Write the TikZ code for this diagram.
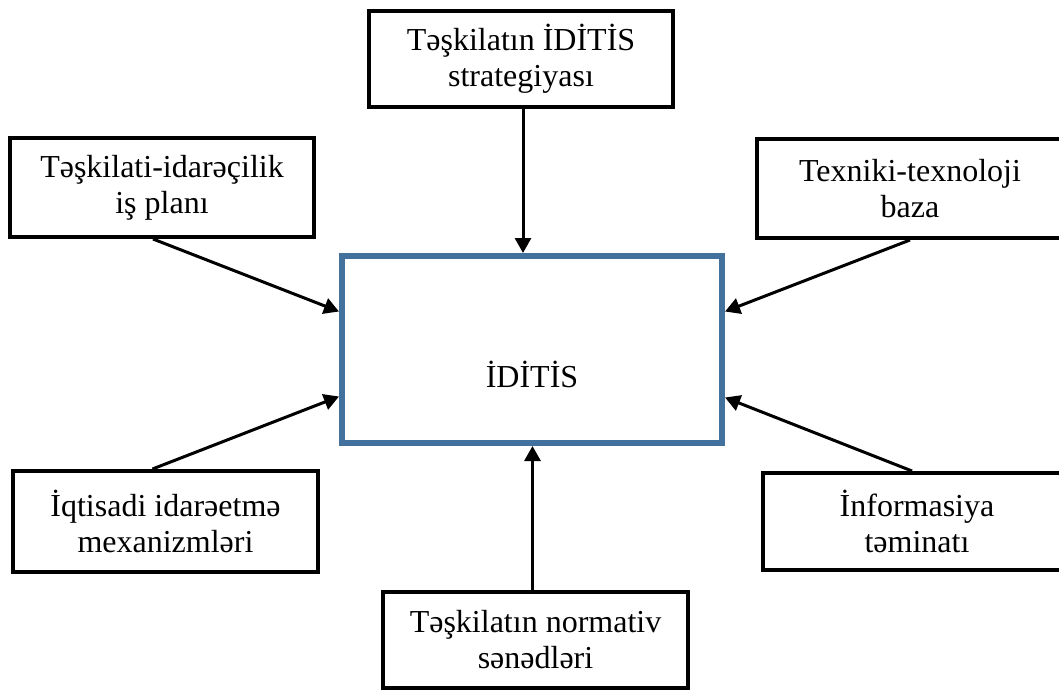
\documentclass[tikz,border=0pt]{standalone}
\usepackage{fontspec}
\setmainfont{Liberation Serif}
\usetikzlibrary{arrows.meta, positioning, calc}

\definecolor{coreblue}{RGB}{65,113,156}

\begin{document}
\begin{tikzpicture}[
        x=1pt, y=-1pt,
        src/.style={rectangle, draw, line width=4pt, fill=white, align=center, inner sep=0pt,
            font=\fontsize{32}{36}\selectfont},
        core/.style={rectangle, draw=coreblue, line width=6pt, fill=white,
            minimum width=380pt, minimum height=187pt, text height=75pt, text depth=0pt,
            font=\fontsize{32}{36}\selectfont},
        link/.style={-{Triangle[length=15pt, width=16pt]}, line width=3pt}
    ]
    \useasboundingbox (0,0) rectangle (1059,690);

    \node[core] (iditis) at (532,349.5) {İDİTİS};

    \node[src, minimum width=304pt, minimum height=96pt] (strat) at (521,59) {Təşkilatın İDİTİS\\strategiyası};
    \node[src, minimum width=304pt, minimum height=99pt] (plan) at (162,187.5) {Təşkilati-idarəçilik\\iş planı};
    \node[src, minimum width=306pt, minimum height=99pt] (baza) at (910,188.5) {Texniki-texnoloji\\baza};
    \node[src, minimum width=305pt, minimum height=101pt] (iqt) at (165.5,521.5) {İqtisadi idarəetmə\\mexanizmləri};
    \node[src, minimum width=308pt, minimum height=97pt] (info) at (917,521.5) {İnformasiya\\təminatı};
    \node[src, minimum width=305pt, minimum height=96pt] (norm) at (535.5,640) {Təşkilatın normativ\\sənədləri};

    \draw[link] ([xshift=2pt]strat.south) -- ([xshift=2pt]strat.south |- iditis.north);
    \draw[link] ([xshift=-9pt]plan.south) -- ([yshift=38pt]iditis.west);
    \draw[link] (baza.south) -- ([yshift=38pt]iditis.east);
    \draw[link] ([xshift=-13pt]iqt.north) -- ([yshift=-47pt]iditis.west);
    \draw[link] ([xshift=-5pt]info.north) -- ([yshift=-48pt]iditis.east);
    \draw[link] ([xshift=-3pt]norm.north) -- ([xshift=-3pt]norm.north |- iditis.south);
\end{tikzpicture}
\end{document}
